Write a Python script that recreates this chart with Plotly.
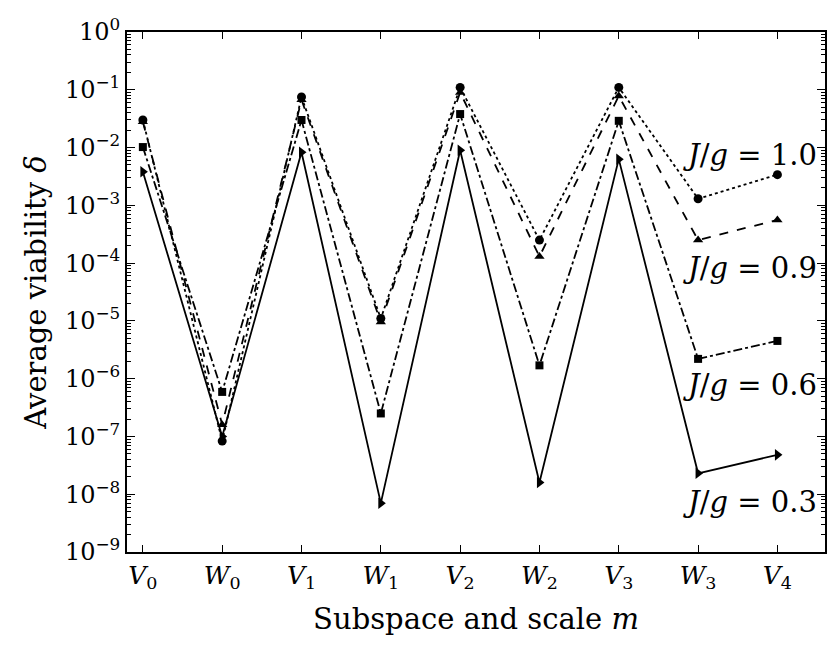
import math
import plotly.graph_objects as go

categories = ["V0", "W0", "V1", "W1", "V2", "W2", "V3", "W3", "V4"]
cat_labels = ["<i>V</i><sub>0</sub>", "<i>W</i><sub>0</sub>", "<i>V</i><sub>1</sub>",
              "<i>W</i><sub>1</sub>", "<i>V</i><sub>2</sub>", "<i>W</i><sub>2</sub>",
              "<i>V</i><sub>3</sub>", "<i>W</i><sub>3</sub>", "<i>V</i><sub>4</sub>"]

jg_10 = [3.0e-2, 8.3e-8, 7.5e-2, 1.1e-5, 1.1e-1, 2.5e-4, 1.1e-1, 1.3e-3, 3.4e-3]
jg_09 = [2.8e-2, 1.6e-7, 6.7e-2, 9.6e-6, 9.0e-2, 1.3e-4, 7.8e-2, 2.5e-4, 5.6e-4]
jg_06 = [1.02e-2, 5.9e-7, 3.0e-2, 2.5e-7, 3.8e-2, 1.7e-6, 2.9e-2, 2.2e-6, 4.5e-6]
jg_03 = [3.8e-3, 1.0e-7, 8.3e-3, 7.0e-9, 9.0e-3, 1.6e-8, 6.3e-3, 2.3e-8, 4.8e-8]

labels = ["<i>J</i>/<i>g</i> = 1.0", "<i>J</i>/<i>g</i> = 0.9",
          "<i>J</i>/<i>g</i> = 0.6", "<i>J</i>/<i>g</i> = 0.3"]
label_y = [7.4e-3, 8.3e-5, 7.8e-7, 7.4e-9]

ytick_vals = [1e-9, 1e-8, 1e-7, 1e-6, 1e-5, 1e-4, 1e-3, 1e-2, 1e-1, 1e0]
ytick_text = ["10<sup>−9</sup>", "10<sup>−8</sup>", "10<sup>−7</sup>", "10<sup>−6</sup>",
              "10<sup>−5</sup>", "10<sup>−4</sup>", "10<sup>−3</sup>", "10<sup>−2</sup>",
              "10<sup>−1</sup>", "10<sup>0</sup>"]

FONT = "DejaVu Serif"
xs = list(range(len(categories)))

series = [
    (jg_03, "solid", "triangle-right", 10),
    (jg_06, "dashdot", "square", 8),
    (jg_09, "dash", "triangle-up", 9),
    (jg_10, "dot", "circle", 9),
]

fig = go.Figure()
for vals, dash, sym, ms in series:
    fig.add_trace(go.Scatter(
        x=xs, y=vals, mode="lines+markers",
        line=dict(color="black", width=1.8, dash=dash),
        marker=dict(symbol=sym, size=ms, color="black"),
        showlegend=False,
    ))

for lab, ly in zip(labels, label_y):
    fig.add_annotation(x=6.78, y=math.log10(ly), text=lab, showarrow=False,
                       xanchor="left", yanchor="middle",
                       font=dict(family=FONT, size=29, color="black"))

minor_vals = []
for e in range(-9, 0):
    for k in range(2, 10):
        minor_vals.append(k * 10.0 ** e)

fig.update_layout(
    width=840, height=650,
    margin=dict(l=127, r=15, t=32, b=98),
    plot_bgcolor="white", paper_bgcolor="white",
    font=dict(family=FONT, size=24, color="black"),
    xaxis=dict(
        range=[-0.2, 8.6], tickmode="array", tickvals=xs, ticktext=cat_labels,
        ticks="inside", ticklen=7, tickwidth=1, tickcolor="black",
        showline=True, linecolor="black", linewidth=2, mirror="ticks",
        showgrid=False, zeroline=False,
        title=dict(text="Subspace and scale <i>m</i>", font=dict(size=29), standoff=16),
        tickfont=dict(size=25),
    ),
    yaxis=dict(
        type="log", range=[-9, 0], tickmode="array", tickvals=ytick_vals, ticktext=ytick_text,
        ticks="inside", ticklen=8, tickwidth=1, tickcolor="black",
        minor=dict(tickmode="array", tickvals=minor_vals, ticks="inside", ticklen=4,
                   tickcolor="black", tickwidth=1, showgrid=False),
        showline=True, linecolor="black", linewidth=2, mirror="ticks",
        showgrid=False, zeroline=False,
        title=dict(text="Average viability <i>δ</i>", font=dict(size=29), standoff=10),
        tickfont=dict(size=24),
    ),
)

fig.write_html("out.html")
